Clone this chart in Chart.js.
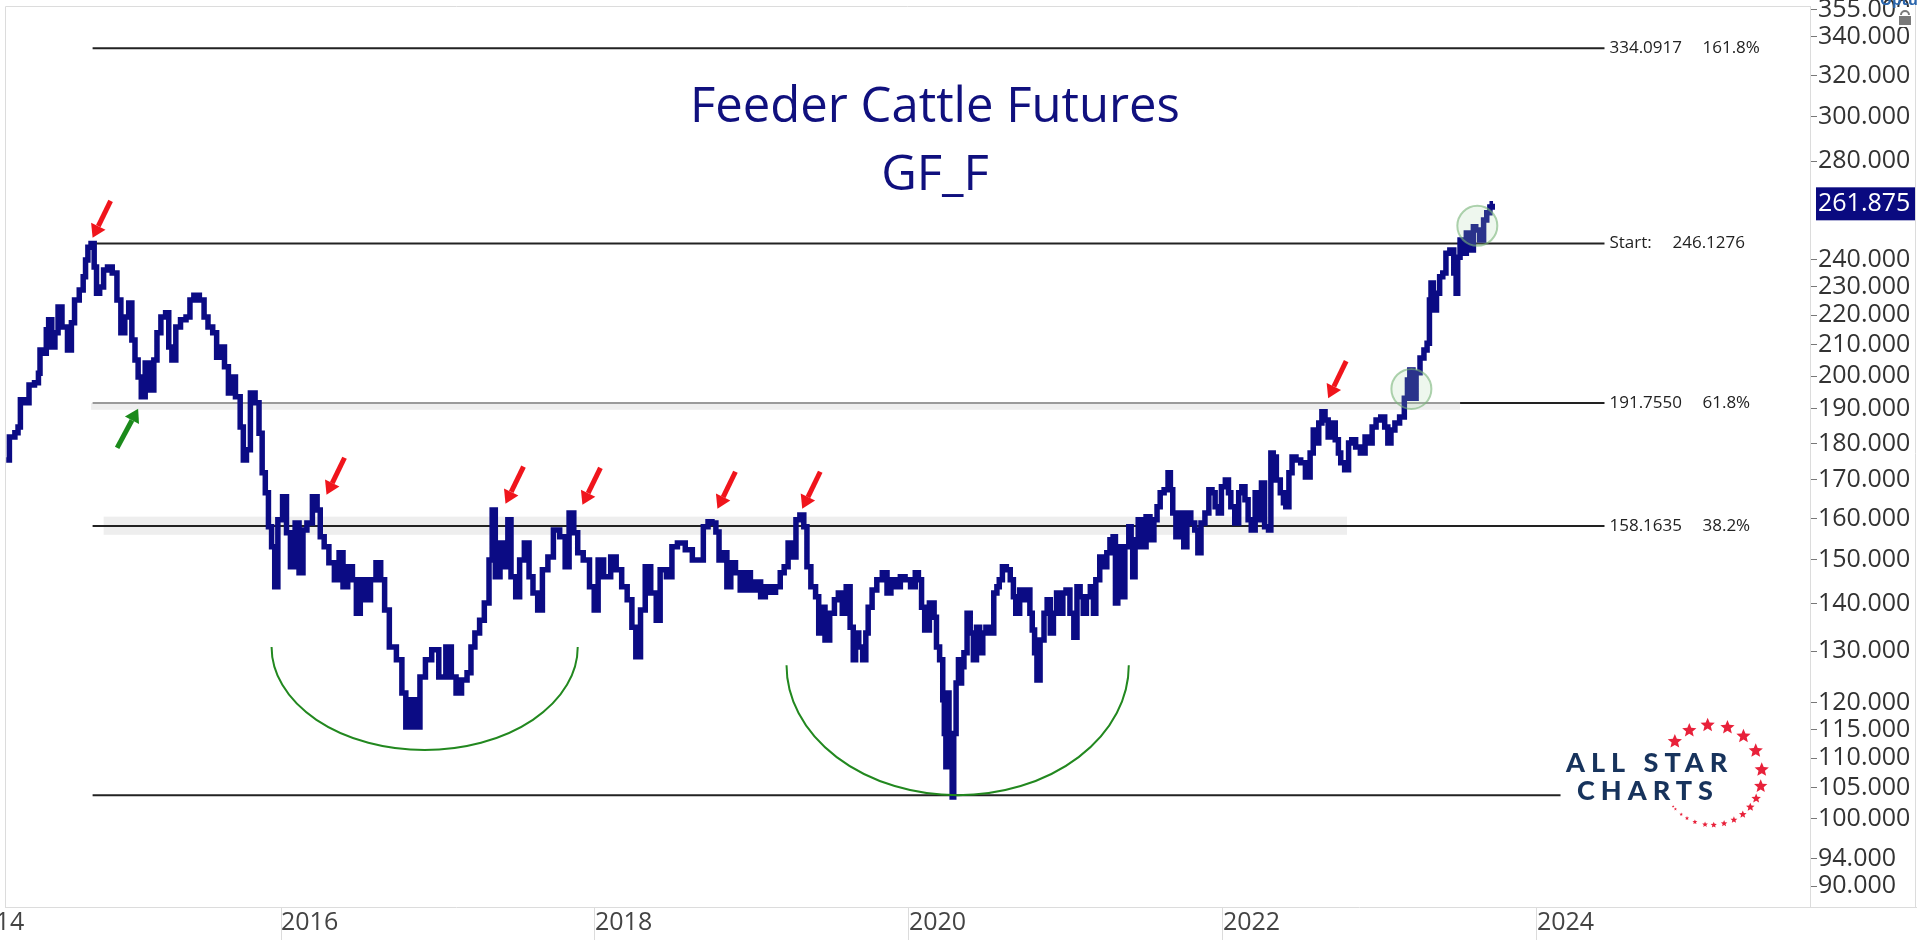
<!DOCTYPE html>
<html lang="en">
<head>
  <meta charset="UTF-8">
  <title>Feeder Cattle Futures GF_F</title>
  <script src="https://cdn.jsdelivr.net/npm/chart.js"></script>
  <style>
    * { margin: 0; padding: 0; box-sizing: border-box; }
    body { background: #fff; width: 1917px; height: 940px; overflow: hidden; }
    canvas { display: block; }
  </style>
</head>
<body>
  <canvas id="chart" width="1917" height="940"></canvas>

  <script>
    // closes: decimal year / price
    const years = [
      2014.25, 2014.29, 2014.32, 2014.33, 2014.35, 2014.38, 2014.41, 2014.45, 2014.46, 2014.47,
      2014.50, 2014.51, 2014.53, 2014.55, 2014.57, 2014.59, 2014.62, 2014.66, 2014.67, 2014.70,
      2014.73, 2014.75, 2014.76, 2014.78, 2014.80, 2014.82, 2014.83, 2014.86, 2014.88, 2014.91,
      2014.94, 2014.97, 2014.99, 2015.02, 2015.04, 2015.06, 2015.08, 2015.10, 2015.12, 2015.15,
      2015.18, 2015.20, 2015.22, 2015.25, 2015.28, 2015.29, 2015.32, 2015.34, 2015.38, 2015.41,
      2015.43, 2015.46, 2015.50, 2015.52, 2015.55, 2015.58, 2015.60, 2015.62, 2015.66, 2015.67,
      2015.69, 2015.73, 2015.75, 2015.77, 2015.79, 2015.82, 2015.85, 2015.87, 2015.89, 2015.91,
      2015.93, 2015.95, 2015.97, 2015.99, 2016.03, 2016.04, 2016.08, 2016.10, 2016.13, 2016.15,
      2016.18, 2016.22, 2016.24, 2016.26, 2016.29, 2016.32, 2016.36, 2016.38, 2016.41, 2016.44,
      2016.47, 2016.49, 2016.52, 2016.55, 2016.59, 2016.62, 2016.65, 2016.67, 2016.71, 2016.76,
      2016.78, 2016.81, 2016.84, 2016.87, 2016.90, 2016.94, 2016.98, 2017.03, 2017.07, 2017.10,
      2017.13, 2017.17, 2017.20, 2017.22, 2017.25, 2017.28, 2017.31, 2017.34, 2017.35, 2017.38,
      2017.41, 2017.44, 2017.45, 2017.48, 2017.51, 2017.53, 2017.57, 2017.59, 2017.62, 2017.65,
      2017.68, 2017.72, 2017.75, 2017.80, 2017.82, 2017.85, 2017.88, 2017.90, 2017.95, 2017.98,
      2018.01, 2018.03, 2018.08, 2018.12, 2018.15, 2018.19, 2018.22, 2018.25, 2018.27, 2018.31,
      2018.33, 2018.38, 2018.40, 2018.43, 2018.48, 2018.50, 2018.55, 2018.60, 2018.64, 2018.67,
      2018.71, 2018.73, 2018.76, 2018.78, 2018.80, 2018.83, 2018.85, 2018.88, 2018.91, 2018.94,
      2018.97, 2019.01, 2019.04, 2019.07, 2019.10, 2019.13, 2019.17, 2019.19, 2019.22, 2019.24,
      2019.27, 2019.29, 2019.32, 2019.34, 2019.36, 2019.39, 2019.42, 2019.43, 2019.45, 2019.48,
      2019.51, 2019.54, 2019.56, 2019.59, 2019.61, 2019.64, 2019.65, 2019.67, 2019.69, 2019.72,
      2019.73, 2019.75, 2019.78, 2019.81, 2019.85, 2019.87, 2019.90, 2019.93, 2019.96, 2019.99,
      2020.03, 2020.05, 2020.07, 2020.09, 2020.11, 2020.15, 2020.17, 2020.18, 2020.21, 2020.22,
      2020.23, 2020.24, 2020.25, 2020.26, 2020.27, 2020.28, 2020.29, 2020.31, 2020.32, 2020.33,
      2020.34, 2020.36, 2020.38, 2020.40, 2020.42, 2020.44, 2020.46, 2020.48, 2020.50, 2020.53,
      2020.55, 2020.57, 2020.58, 2020.61, 2020.63, 2020.66, 2020.67, 2020.69, 2020.72, 2020.74,
      2020.76, 2020.78, 2020.79, 2020.81, 2020.82, 2020.85, 2020.87, 2020.89, 2020.91, 2020.93,
      2020.95, 2020.97, 2020.99, 2021.01, 2021.04, 2021.06, 2021.08, 2021.10, 2021.12, 2021.14,
      2021.17, 2021.18, 2021.20, 2021.23, 2021.25, 2021.27, 2021.29, 2021.31, 2021.32, 2021.34,
      2021.36, 2021.39, 2021.41, 2021.42, 2021.43, 2021.45, 2021.47, 2021.50, 2021.52, 2021.55,
      2021.57, 2021.59, 2021.61, 2021.64, 2021.66, 2021.67, 2021.69, 2021.71, 2021.74, 2021.76,
      2021.78, 2021.81, 2021.83, 2021.85, 2021.87, 2021.90, 2021.92, 2021.94, 2021.96, 2021.98,
      2022.00, 2022.03, 2022.04, 2022.06, 2022.09, 2022.11, 2022.13, 2022.15, 2022.17, 2022.19,
      2022.22, 2022.24, 2022.25, 2022.28, 2022.30, 2022.31, 2022.33, 2022.35, 2022.38, 2022.39,
      2022.41, 2022.43, 2022.45, 2022.48, 2022.51, 2022.54, 2022.57, 2022.58, 2022.60, 2022.62,
      2022.64, 2022.66, 2022.68, 2022.70, 2022.73, 2022.74, 2022.76, 2022.79, 2022.81, 2022.83,
      2022.86, 2022.89, 2022.92, 2022.94, 2022.96, 2022.99, 2023.02, 2023.04, 2023.06, 2023.08,
      2023.11, 2023.14, 2023.17, 2023.18, 2023.20, 2023.22, 2023.24, 2023.27, 2023.29, 2023.31,
      2023.32, 2023.33, 2023.35, 2023.37, 2023.39, 2023.41, 2023.43, 2023.46, 2023.48, 2023.49,
      2023.50, 2023.52, 2023.54, 2023.56, 2023.59, 2023.60, 2023.62, 2023.65, 2023.67, 2023.69,
      2023.71, 2023.72
    ];
    const prices = [
      175.4, 181.8, 183.0, 184.7, 192.7, 191.8, 197.2, 197.9, 200.9, 208.3,
      207.3, 215.0, 218.4, 209.3, 214.0, 222.8, 216.0, 208.3, 217.4, 225.3,
      228.8, 233.6, 239.8, 244.7, 246.1, 237.2, 227.7, 229.9, 236.1, 237.2,
      235.0, 225.3, 214.0, 219.4, 224.2, 211.6, 205.1, 199.7, 193.6, 204.1,
      195.7, 205.1, 214.0, 219.4, 220.8, 209.3, 205.1, 216.0, 218.4, 219.4,
      225.3, 227.0, 225.3, 219.4, 216.0, 214.0, 206.0, 209.3, 202.9, 194.8,
      199.7, 193.6, 184.7, 175.4, 178.2, 194.8, 191.8, 182.9, 171.9, 166.6,
      158.0, 153.1, 143.8, 159.7, 165.6, 156.5, 148.4, 158.9, 147.0, 157.2,
      158.9, 165.6, 162.2, 155.5, 153.1, 149.3, 145.4, 151.7, 143.8, 148.4,
      145.4, 138.0, 145.4, 140.9, 145.4, 149.3, 145.4, 138.7, 130.9, 128.3,
      121.8, 115.5, 120.5, 115.5, 124.9, 128.3, 130.3, 124.9, 130.9, 124.9,
      121.8, 124.3, 125.7, 130.9, 133.8, 136.5, 140.2, 150.0, 162.2, 146.1,
      154.0, 148.4, 159.7, 146.1, 141.6, 150.0, 154.0, 146.1, 142.4, 138.7,
      147.7, 150.7, 157.2, 155.5, 148.4, 161.4, 156.5, 151.7, 150.0, 143.8,
      138.7, 150.0, 146.1, 150.7, 147.7, 143.8, 140.9, 135.0, 128.9, 138.7,
      148.4, 142.4, 136.5, 147.7, 146.1, 153.1, 154.0, 152.4, 150.0, 150.0,
      158.0, 159.2, 158.9, 156.7, 150.0, 151.7, 143.8, 149.3, 147.0, 143.1,
      147.0, 143.1, 144.9, 141.6, 143.8, 142.6, 143.8, 147.0, 148.4, 154.0,
      150.7, 159.7, 160.9, 158.0, 148.4, 143.8, 141.6, 133.8, 139.3, 132.3,
      138.0, 140.9, 142.4, 138.0, 143.8, 135.0, 128.3, 133.8, 130.9, 128.3,
      133.8, 139.3, 143.1, 145.4, 147.0, 142.4, 145.4, 143.8, 146.1, 145.4,
      143.8, 147.0, 145.4, 139.3, 134.4, 140.2, 137.1, 130.9, 128.3, 120.5,
      114.3, 108.5, 121.8, 114.3, 108.5, 103.5, 114.3, 123.7, 128.3, 123.7,
      126.9, 129.7, 138.0, 133.8, 128.3, 135.0, 129.7, 133.8, 135.0, 133.8,
      142.4, 143.8, 145.4, 148.4, 147.7, 145.4, 141.6, 138.0, 143.1, 140.9,
      143.1, 138.0, 134.4, 129.7, 124.3, 132.3, 138.0, 140.9, 133.8, 138.0,
      142.4, 138.0, 142.4, 143.1, 138.0, 132.9, 143.8, 141.6, 138.0, 141.6,
      143.8, 138.0, 145.4, 150.7, 148.4, 151.7, 154.8, 155.5, 140.2, 153.1,
      141.6, 153.1, 158.0, 154.8, 146.1, 153.1, 159.7, 153.1, 160.5, 154.8,
      159.7, 163.0, 166.6, 167.4, 171.9, 167.4, 161.4, 155.5, 161.4, 153.1,
      161.4, 158.9, 157.2, 151.7, 158.9, 161.4, 167.4, 166.6, 163.0, 161.4,
      168.2, 170.0, 166.6, 163.0, 158.9, 166.6, 168.2, 164.8, 159.7, 157.2,
      166.6, 159.7, 169.2, 158.0, 157.2, 177.3, 176.2, 170.0, 166.6, 164.0,
      163.0, 171.9, 176.2, 175.4, 174.6, 170.8, 177.3, 183.8, 180.1, 185.8,
      189.1, 186.7, 181.8, 185.8, 181.0, 177.3, 174.6, 172.7, 180.1, 181.0,
      179.0, 177.3, 181.8, 180.1, 184.7, 186.7, 187.6, 184.7, 180.1, 183.8,
      185.8, 187.6, 193.2, 198.8, 201.9, 193.2, 201.0, 205.7, 208.3, 210.5,
      225.3, 231.4, 221.8, 227.7, 233.6, 235.0, 242.4, 243.6, 235.0, 227.7,
      240.9, 247.5, 242.4, 250.2, 243.6, 252.6, 251.4, 247.5, 255.3, 258.2,
      260.6, 261.875
    ];
    const lastPrice = 261.875;

    // axes
    const yearTicks = [2014, 2016, 2018, 2020, 2022, 2024];
    const priceTicks = [90, 94, 100, 105, 110, 115, 120, 130, 140, 150, 160, 170, 180,
                        190, 200, 210, 220, 230, 240, 280, 300, 320, 340, 355];

    // fibonacci levels drawn from the 2014 high
    const fibLevels = [334.0917, 246.1276, 191.7550, 158.1635, 103.79];
    const fibTags = ['161.8%', 'Start:', '61.8%', '38.2%', ''];
    const fibFrom = 2014.80;
    const fibTo = [2024.43, 2024.43, 2024.43, 2024.43, 2024.15];
    const grayUntil = [null, null, 2023.51, null, null];
    // shaded zones: from, to, low, high
    const zones = [[2014.79, 2023.51, 189.7, 191.755], [2014.87, 2022.79, 156.0, 160.5]];

    // annotations (year, price)
    const redArrows = [[2014.80, 248.3], [2016.29, 166.1], [2017.43, 163.8], [2017.92, 163.5],
                       [2018.78, 162.5], [2019.32, 162.5], [2022.67, 193.2]];
    const greenArrows = [[2015.09, 190.0]];
    const retests = [[2023.20, 196.0], [2023.62, 253.0]];
    const bases = [[2015.94, 2017.89, 130.9, 111.4], [2019.22, 2021.40, 127.2, 103.79]];

    const titleLines = ['Feeder Cattle Futures', 'GF_F'];

    function drawArrow(ctx, tx, ty, dx, dy, color) {
      const len = Math.hypot(dx, dy);
      const ux = -dx / len, uy = -dy / len;
      const bx = tx - ux * 13, by = ty - uy * 13;
      ctx.strokeStyle = color;
      ctx.fillStyle = color;
      ctx.lineWidth = 5;
      ctx.beginPath();
      ctx.moveTo(tx + dx, ty + dy);
      ctx.lineTo(bx, by);
      ctx.stroke();
      ctx.beginPath();
      ctx.moveTo(tx, ty);
      ctx.lineTo(bx - uy * 8, by + ux * 8);
      ctx.lineTo(bx + uy * 8, by - ux * 8);
      ctx.closePath();
      ctx.fill();
    }

    function drawStar(ctx, cx, cy, r) {
      ctx.beginPath();
      for (let i = 0; i < 10; i++) {
        const rr = i % 2 ? r * 0.45 : r;
        const a = -Math.PI / 2 + i * Math.PI / 5;
        ctx.lineTo(cx + rr * Math.cos(a), cy + rr * Math.sin(a));
      }
      ctx.closePath();
      ctx.fill();
    }

    const overlay = {
      id: 'overlay',
      beforeDatasetsDraw(chart) {
        const { ctx, chartArea: a } = chart;
        const X = v => chart.scales.x.getPixelForValue(v);
        const Y = v => chart.scales.y.getPixelForValue(v);
        ctx.save();

        // frame
        ctx.strokeStyle = '#dcdcdc';
        ctx.lineWidth = 1;
        ctx.beginPath();
        ctx.moveTo(a.left + 0.5, a.bottom);
        ctx.lineTo(a.left + 0.5, a.top + 0.5);
        ctx.lineTo(a.right, a.top + 0.5);
        ctx.moveTo(1915.5, 0);
        ctx.lineTo(1915.5, a.bottom);
        ctx.moveTo(a.right, a.bottom + 0.5);
        ctx.lineTo(chart.width, a.bottom + 0.5);
        ctx.stroke();

        // title
        ctx.fillStyle = '#10107e';
        ctx.font = '49px "Open Sans"';
        ctx.textAlign = 'center';
        ctx.textBaseline = 'alphabetic';
        ctx.fillText(titleLines[0], 935, 122);
        ctx.fillText(titleLines[1], 935, 190);

        // zones
        ctx.fillStyle = 'rgba(0,0,0,0.065)';
        zones.forEach(([x0, x1, lo, hi]) => {
          ctx.fillRect(X(x0), Y(hi), X(x1) - X(x0), Y(lo) - Y(hi));
        });

        // fib lines + labels
        ctx.lineWidth = 2;
        ctx.font = '17px "Open Sans"';
        ctx.textAlign = 'left';
        ctx.textBaseline = 'middle';
        fibLevels.forEach((lvl, i) => {
          const y = Y(lvl);
          const x0 = X(fibFrom), x1 = X(fibTo[i]);
          const xg = grayUntil[i] ? X(grayUntil[i]) : x0;
          if (grayUntil[i]) {
            ctx.strokeStyle = '#9a9a9a';
            ctx.beginPath(); ctx.moveTo(x0, y); ctx.lineTo(xg, y); ctx.stroke();
          }
          ctx.strokeStyle = '#222';
          ctx.beginPath(); ctx.moveTo(xg, y); ctx.lineTo(x1, y); ctx.stroke();

          if (!fibTags[i]) return;
          ctx.fillStyle = '#222';
          if (fibTags[i] === 'Start:') {
            ctx.fillText('Start:', x1 + 5, y);
            ctx.fillText(lvl.toFixed(4), x1 + 68, y);
          } else {
            ctx.fillText(lvl.toFixed(4), x1 + 5, y);
            ctx.fillText(fibTags[i], x1 + 98, y);
          }
        });
        ctx.restore();
      },

      afterDatasetsDraw(chart) {
        const { ctx } = chart;
        const X = v => chart.scales.x.getPixelForValue(v);
        const Y = v => chart.scales.y.getPixelForValue(v);
        ctx.save();

        redArrows.forEach(([x, y]) => drawArrow(ctx, X(x), Y(y), 18, -37, '#f0151c'));
        greenArrows.forEach(([x, y]) => drawArrow(ctx, X(x), Y(y), -21, 39, '#1b8a1b'));

        // retest circles
        retests.forEach(([x, y]) => {
          ctx.beginPath();
          ctx.arc(X(x), Y(y), 20, 0, Math.PI * 2);
          ctx.fillStyle = 'rgba(170,215,170,0.2)';
          ctx.fill();
          ctx.strokeStyle = 'rgba(120,180,120,0.6)';
          ctx.lineWidth = 2;
          ctx.stroke();
        });

        // rounded bases
        ctx.strokeStyle = '#22881f';
        ctx.lineWidth = 2;
        bases.forEach(([from, to, top, low]) => {
          const xl = X(from), xr = X(to), yt = Y(top), yb = Y(low);
          ctx.beginPath();
          ctx.ellipse((xl + xr) / 2, yt, (xr - xl) / 2, yb - yt, 0, 0, Math.PI);
          ctx.stroke();
        });

        // logo
        ctx.fillStyle = '#17335c';
        ctx.font = '900 27px Lato';
        ctx.textAlign = 'left';
        ctx.textBaseline = 'alphabetic';
        ctx.letterSpacing = '6px';
        ctx.fillText('ALL STAR', 1566, 772);
        ctx.fillText('CHARTS', 1577, 800);
        ctx.letterSpacing = '0px';

        ctx.fillStyle = '#e8213a';
        const starAngles = [-138, -117, -95, -72, -51, -29, -6, 13, 28, 40, 52, 64, 76, 88, 98, 110, 120, 128, 137, 141];
        const starSizes = [7.5, 7.5, 7.5, 7.5, 7.5, 7.5, 7.5, 7, 5, 4.5, 4, 3.6, 3.4, 3.2, 3, 2.6, 2.2, 1.8, 1.6, 1.4];
        starAngles.forEach((deg, i) => {
          const t = deg * Math.PI / 180;
          drawStar(ctx, 1712 + 50 * Math.cos(t), 775 + 50 * Math.sin(t), starSizes[i]);
        });
        ctx.restore();
      },

      afterDraw(chart) {
        const { ctx, chartArea: a } = chart;
        const y = chart.scales.y.getPixelForValue(lastPrice);
        ctx.save();
        // last price box
        ctx.fillStyle = '#0a0a80';
        ctx.fillRect(a.right + 6, y - 16.5, 99, 33);
        ctx.fillStyle = '#fff';
        ctx.font = '25px "Open Sans"';
        ctx.textAlign = 'left';
        ctx.textBaseline = 'middle';
        ctx.fillText(lastPrice.toFixed(3), a.right + 8, y);

        // lock + vendor mark at top right
        ctx.fillStyle = '#fff';
        ctx.fillRect(1897, 7, 17, 20);
        ctx.fillStyle = '#7a7a7a';
        ctx.fillRect(1899, 16, 12, 9);
        ctx.strokeStyle = '#7a7a7a';
        ctx.lineWidth = 2;
        ctx.beginPath();
        ctx.arc(1905, 15, 4, Math.PI, 0);
        ctx.stroke();
        ctx.fillStyle = '#2b66ad';
        ctx.font = 'bold 15px "Open Sans"';
        ctx.textBaseline = 'alphabetic';
        ctx.fillText('Optuma', 1880, 5);
        ctx.restore();
      }
    };

    Chart.defaults.font.family = '"Open Sans", sans-serif';

    const ctx = document.getElementById('chart').getContext('2d');
    new Chart(ctx, {
      type: 'line',
      data: {
        datasets: [{
          label: 'GF_F',
          data: years.map((x, i) => ({ x, y: prices[i] })),
          borderColor: '#0b0b84',
          borderWidth: 5.5,
          pointRadius: 0,
          stepped: 'middle',
          fill: false
        }]
      },
      options: {
        responsive: false,
        animation: false,
        devicePixelRatio: 1,
        layout: { padding: { left: 5, top: 6, right: 0, bottom: 0 } },
        plugins: { legend: { display: false }, tooltip: { enabled: false } },
        scales: {
          x: {
            type: 'linear',
            position: 'bottom',
            min: 2014.242,
            max: 2025.739,
            afterBuildTicks: s => { s.ticks = yearTicks.map(v => ({ value: v })); },
            afterFit: s => {
              s.height = 33;
              s.paddingLeft = 0; s.paddingRight = 0;
            },
            grid: { drawOnChartArea: false, tickLength: 33, color: '#dcdcdc' },
            border: { color: '#dcdcdc' },
            ticks: {
              align: 'start', padding: -32, autoSkip: false, maxRotation: 0,
              color: '#444', font: { size: 25 },
              callback: v => String(v)
            }
          },
          y: {
            type: 'logarithmic',
            position: 'right',
            min: 87.13,
            max: 356.9,
            afterBuildTicks: s => { s.ticks = priceTicks.map(v => ({ value: v })); },
            afterFit: s => {
              s.width = 107;
              s.paddingTop = 0; s.paddingBottom = 0;
            },
            grid: { drawOnChartArea: false, tickLength: 7, color: '#777' },
            border: { color: '#dcdcdc' },
            ticks: {
              padding: 1, autoSkip: false, color: '#333', font: { size: 25 },
              callback: v => Number(v).toFixed(3)
            }
          }
        }
      },
      plugins: [overlay]
    });
  </script>
</body>
</html>
